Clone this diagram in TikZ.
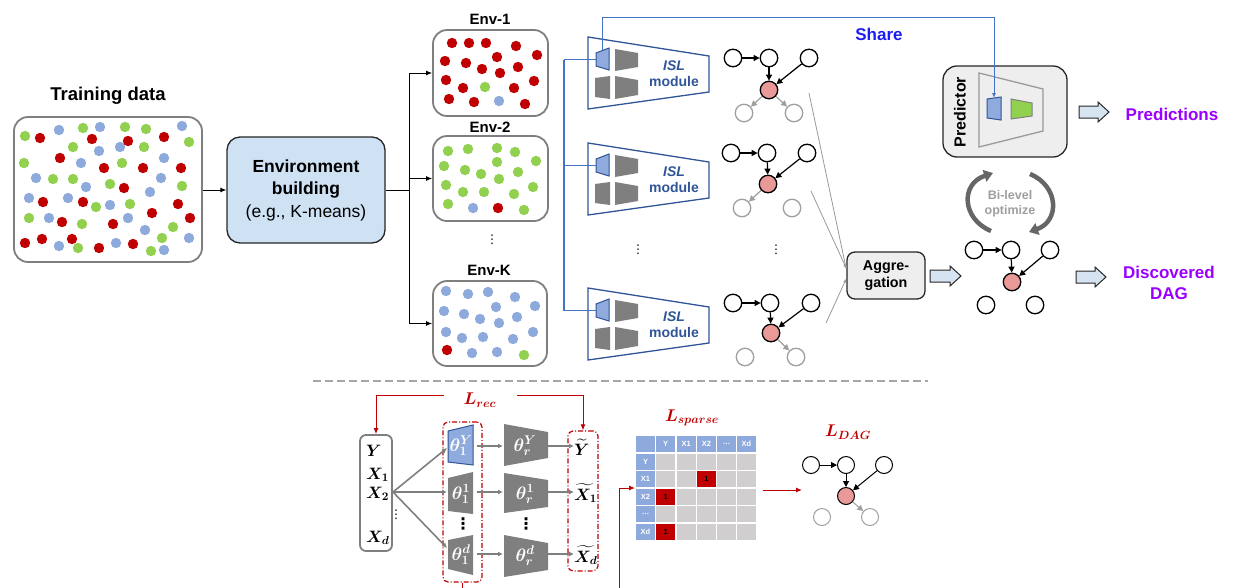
\RequirePackage{fix-cm}
\documentclass[tikz,border=0pt]{standalone}
\usepackage{amsmath}
\usepackage{bm}
\usepackage{fontspec}
\setmainfont{Liberation Sans}
\newfontfamily\djv{DejaVu Sans}
\usetikzlibrary{arrows.meta,calc}
\definecolor{dred}{HTML}{C00000}
\definecolor{dgreen}{HTML}{92D050}
\definecolor{dblue}{HTML}{8EA9DB}
\definecolor{bgray}{HTML}{7F7F7F}
\definecolor{islblue}{HTML}{2F5597}
\definecolor{encblue}{HTML}{8FAADC}
\definecolor{envfill}{HTML}{CFE2F3}
\definecolor{purp}{HTML}{9900FF}
\definecolor{sharetext}{HTML}{1C1CF5}
\definecolor{shareline}{HTML}{4472C4}
\definecolor{pinkred}{HTML}{EA9999}
\definecolor{lgray}{HTML}{EEEEEE}
\definecolor{cellgray}{HTML}{D0CECE}
\definecolor{arrfill}{HTML}{D6E4F2}
\definecolor{bilgray}{HTML}{666666}
\definecolor{biltext}{HTML}{9E9E9E}
\definecolor{dark}{HTML}{262626}
\newcommand{\blockarrow}[3]{%
  \draw[blockarr] ($(#1,#3)+(0,-6)$) -- ($(#2,#3)+(-11,-6)$) -- ($(#2,#3)+(-11,-10)$) -- (#2,#3) -- ($(#2,#3)+(-11,10)$) -- ($(#2,#3)+(-11,6)$) -- ($(#1,#3)+(0,6)$) -- cycle;}
\begin{document}
\begin{tikzpicture}[x=1pt,y=-1pt,
  font=\fontsize{14}{16}\selectfont,
  dn/.style={circle,draw=black,line width=1.3pt,minimum size=17.5pt,inner sep=0pt},
  dnred/.style={dn,fill=pinkred},
  dng/.style={circle,draw=gray!75,line width=1.3pt,minimum size=17.5pt,inner sep=0pt},
  dedge/.style={line width=1.2pt,-{Triangle[length=6pt,width=6pt]}},
  gedge/.style={line width=1.2pt,draw=gray!75,-{Triangle[length=6pt,width=6pt]}},
  databox/.style={draw=bgray,line width=1.8pt,rounded corners=14pt,inner sep=0pt},
  envttl/.style={font=\bfseries\fontsize{15}{17}\selectfont},
  blockarr/.style={draw=dark,line width=1pt,fill=arrfill},
  graybox/.style={draw=dark,line width=1.3pt,fill=lgray},
  blarr/.style={line width=0.9pt,-{Latex[length=6pt,width=5pt]}},
  shl/.style={draw=shareline,line width=1.2pt},
  encb/.style={fill=encblue,draw=islblue,line width=1pt},
  encg/.style={fill=bgray},
  garr/.style={draw=bgray,line width=1.6pt,-{Latex[length=5pt,width=5pt]}},
  glin/.style={draw=gray!80,line width=0.8pt,-{Latex[length=4pt,width=3pt]}},
  redarr/.style={draw=dred,line width=1pt,-{Latex[length=6pt,width=5pt]}},
  rdd/.style={draw=dred,line width=1.2pt,dash pattern=on 5pt off 2pt on 1pt off 2pt,rounded corners=5pt,inner sep=0pt},
  lossl/.style={text=dred,font=\fontsize{17}{19}\selectfont},
  thl/.style={text=white,inner sep=0pt,font=\fontsize{18}{20}\selectfont},
  mathv/.style={inner sep=0pt,font=\fontsize{16.5}{18}\selectfont},
  cell/.style={minimum width=19pt,minimum height=16pt,inner sep=0pt,font=\bfseries\fontsize{7.5}{8}\selectfont},
  hcell/.style={cell,fill=dblue,text=white},
  bcell/.style={cell,fill=cellgray},
  rcell/.style={cell,fill=dred,text=black},
  purpt/.style={text=purp,font=\bfseries\fontsize{17}{21}\selectfont,align=center},
  vd/.style={inner sep=0pt,font=\djv\fontsize{12}{13}\selectfont},
  vdb/.style={inner sep=0pt,font=\djv\bfseries\fontsize{16}{17}\selectfont}
]
\useasboundingbox (0,0) rectangle (1233,587);

% ---------- Training data ----------
\node[font=\bfseries\fontsize{18.5}{21}\selectfont] (traint) at (108,96) {Training data};
\node[databox,minimum width=188pt,minimum height=145pt] (train) at (108,189.5) {};
\foreach \x/\y in {25/136,83/128,125/127,146/129,189/142,73/147,144/147,24/163,122/163,53/179,73/179,110/184,182/186,96/207,130/204,29/218,82/224,173/227,162/238,78/248,151/251}
  \fill[dgreen] (\x,\y) circle (5.2pt);
\foreach \x/\y in {40/138,92/139,128/141,164/137,60/158,104/168,143/168,181/168,124/188,43/202,83/202,178/204,152/213,62/222,113/224,190/218,25/243,42/239,72/239,99/248,133/244}
  \fill[dred] (\x,\y) circle (5.2pt);
\foreach \x/\y in {59/130,100/127,182/126,99/151,120/147,81/163,164/158,36/178,86/187,161/178,150/192,29/198,68/198,110/205,49/218,128/218,145/230,189/238,59/246,116/243,164/250}
  \fill[dblue] (\x,\y) circle (5.2pt);

% ---------- Environment building ----------
\node[draw=dark,line width=1.3pt,fill=envfill,rounded corners=13pt,minimum width=158pt,minimum height=106pt,align=center,font=\fontsize{17.5}{22.5}\selectfont] (env) at (306,190) {\textbf{Environment}\\\textbf{building}\\(e.g., K-means)};
\draw[blarr] (train.east |- env.west) -- (env.west);

% ---------- Env boxes ----------
\node[databox,minimum width=115pt,minimum height=86pt] (env1) at (490.5,73) {};
\node[databox,minimum width=115pt,minimum height=85pt] (env2) at (490.5,178.5) {};
\node[databox,minimum width=114pt,minimum height=85pt] (envK) at (490,323.5) {};
\node[envttl] (env1t) at (490,19) {Env-1};
\node[envttl] (env2t) at (490,127) {Env-2};
\node[envttl] (envKt) at (489,270) {Env-K};
\node[vd] (envdots) at (492,240) {⋮};

\coordinate (fan0) at (409,190);
\coordinate (fan1) at (409,73);
\coordinate (fan2) at (409,178.5);
\coordinate (fanK) at (409,323.5);
\draw[line width=0.9pt] (env.east) -- (fan0);
\draw[line width=0.9pt] (fan1) -- (fanK);
\draw[blarr] (fan1) -- (env1.west);
\draw[blarr] (fan2) -- (env2.west);
\draw[blarr] (fanK) -- (envK.west);

\foreach \x/\y in {452/43,469/43,486/43,516/46,537/55,445/61,466/63,497/57,482/69,500/73,518/67,446/80,463/88,514/88,534/81,449/99,474/102,525/104}
  \fill[dred] (\x,\y) circle (5.2pt);
\fill[dgreen] (485,87) circle (5.2pt);
\fill[dblue] (499,101) circle (5.2pt);
\foreach \x/\y in {448/151,468/149,497/148,515/152,536/161,444/166,465/170,481/174,497/162,518/172,499/179,446/185,463/192,484/192,514/194,533/187,448/204,524/210}
  \fill[dgreen] (\x,\y) circle (5.2pt);
\fill[dblue] (473,208) circle (5.2pt);
\fill[dred] (498,208) circle (5.2pt);
\foreach \x/\y in {446/291,468/294,488/292,515/297,535/306,444/311,464/314,480/319,496/307,517/317,499/323,446/332,462/338,483/337,513/339,533/332,472/353,497/352}
  \fill[dblue] (\x,\y) circle (5.2pt);
\fill[dred] (447,350) circle (5.2pt);
\fill[dgreen] (524,355) circle (5.2pt);

% ---------- ISL modules ----------
\foreach \dy/\n in {0/1,106/2,251/3} {
  \begin{scope}[shift={(0,\dy)}]
    \draw[draw=islblue,line width=1.3pt] (588,37) -- (709,56) -- (709,92) -- (588,109) -- cycle;
    \draw[encb] (596,53) -- (609,48) -- (609,70) -- (596,66) -- cycle;
    \fill[encg] (615,49) -- (638,53) -- (638,67) -- (615,71) -- cycle;
    \fill[encg] (595,78) -- (610,76) -- (610,99) -- (595,97) -- cycle;
    \fill[encg] (615,76) -- (638,80) -- (638,95) -- (615,99) -- cycle;
    \node[align=center,text=islblue,font=\bfseries\fontsize{14}{16}\selectfont] (isl\n) at (674,74) {\textit{ISL}\\module};
    \coordinate (encin\n) at (596,59.5);
    \coordinate (bj\n) at (564,59.5);
  \end{scope}
  \draw[shl] (bj\n) -- (encin\n);
}
\draw[shl] (bj1) -- (bj3);
\node[vd] (isldots) at (638,250) {⋮};

% ---------- Predictor ----------
\node[graybox,rounded corners=14pt,minimum width=124pt,minimum height=91pt] (pred) at (1005,111.5) {};
\node[rotate=90,font=\bfseries\fontsize{16}{18}\selectfont] (predt) at (960,112) {Predictor};
\draw[draw=gray!80,line width=1.3pt] (979,73) -- (1043,89) -- (1043,131) -- (979,147) -- cycle;
\draw[encb] (987,99) -- (1001,97) -- (1001,120) -- (987,118) -- cycle;
\draw[fill=dgreen,draw=gray,line width=1pt] (1011,99) -- (1032,103) -- (1032,116) -- (1011,119) -- cycle;
\blockarrow{1079}{1109}{112}
\node[purpt] (predictions) at (1172,114) {Predictions};

% ---------- Share ----------
\coordinate (enctop1) at (602,49.5);
\coordinate (sharecorner) at (602,17);
\coordinate (predenctop) at (994,98);
\draw[draw=shareline,line width=1pt,-{Latex[length=5pt,width=4pt]}] (enctop1) -- (sharecorner) -| (predenctop);
\node[text=sharetext,font=\bfseries\fontsize{17}{19}\selectfont] (share) at (879,34) {Share};

% ---------- Small DAGs ----------
\begin{scope}[shift={(769,90)}]
  \node[dn] (a1) at (-36,-32) {};
  \node[dn] (b1) at (0,-32) {};
  \node[dn] (c1) at (40,-32) {};
  \node[dnred] (d1) at (0,0) {};
  \node[dng] (e1) at (-25,23) {};
  \node[dng] (f1) at (25,23) {};
\end{scope}
\draw[dedge] (a1) -- (b1);
\draw[dedge] (b1) -- (d1);
\draw[dedge] (c1) -- (d1);
\draw[gedge] (d1) -- (e1);
\draw[gedge] (d1) -- (f1);

\begin{scope}[shift={(768,184)}]
  \node[dn] (a2) at (-37,-31) {};
  \node[dn] (b2) at (-1,-31) {};
  \node[dn] (c2) at (39,-31) {};
  \node[dnred] (d2) at (0,0) {};
  \node[dng] (e2) at (-26,24) {};
  \node[dng] (f2) at (24,24) {};
\end{scope}
\draw[dedge] (a2) -- (b2);
\draw[dedge] (b2) -- (d2);
\draw[dedge] (c2) -- (d2);
\draw[gedge] (d2) -- (e2);

\begin{scope}[shift={(771,333)}]
  \node[dn] (a3) at (-38,-30) {};
  \node[dn] (b3) at (-1,-30) {};
  \node[dn] (c3) at (40,-30) {};
  \node[dnred] (d3) at (0,0) {};
  \node[dng] (e3) at (-26,24) {};
  \node[dng] (f3) at (25,24) {};
\end{scope}
\draw[dedge] (a3) -- (b3);
\draw[dedge] (b3) -- (d3);
\draw[dedge] (c3) -- (d3);
\draw[gedge] (d3) -- (f3);
\node[vd] (dagdots) at (776,250) {⋮};

% ---------- Aggregation ----------
\node[graybox,rounded corners=8pt,minimum width=78pt,minimum height=47pt,align=center,font=\bfseries\fontsize{14.3}{17}\selectfont] (agg) at (886,275.5) {Aggre-\\gation};
\coordinate (g1) at (809,93);
\coordinate (g2) at (811,191);
\coordinate (g3) at (826,323);
\draw[glin] (g1) -- ([yshift=6pt]agg.west);
\draw[glin] (g2) -- ([yshift=7pt]agg.west);
\draw[glin] (g3) -- ([yshift=-3pt]agg.west);
\blockarrow{930}{961}{276}

% ---------- Discovered DAG ----------
\begin{scope}[shift={(1012,282)}]
  \node[dn] (fa) at (-38,-32) {};
  \node[dn] (fb) at (-1,-32) {};
  \node[dn] (fc) at (38,-32) {};
  \node[dnred] (fd) at (0,0) {};
  \node[dn] (fe) at (-26,23) {};
  \node[dn] (ff) at (23,23) {};
\end{scope}
\draw[dedge] (fa) -- (fb);
\draw[dedge] (fb) -- (fd);
\draw[dedge] (fc) -- (fd);
\blockarrow{1076}{1106}{277}
\node[purpt] (discovered) at (1169,282.5) {Discovered\\DAG};

% ---------- Bi-level ----------
\draw[line width=4.5pt,draw=bilgray,-{Triangle[length=9pt,width=12pt]}] (991,231) .. controls (962,219) and (960,184) .. (993,173);
\draw[line width=4.5pt,draw=bilgray,-{Triangle[length=9pt,width=12pt]}] (1030,174) .. controls (1059,186) and (1060,221) .. (1029,232);
\node[text=biltext,align=center,font=\bfseries\fontsize{12.5}{15}\selectfont] (bilevel) at (1010,204) {Bi-level\\optimize};

% ---------- Separator ----------
\coordinate (sepL) at (313,381);
\coordinate (sepR) at (928,381);
\draw[draw=gray!70,line width=1.4pt,dash pattern=on 8pt off 4pt] (sepL) -- (sepR);

% ---------- Bottom: reconstruction ----------
\node[draw=bgray,line width=1.8pt,rounded corners=6pt,minimum width=32pt,minimum height=116pt,inner sep=0pt] (inbox) at (376,493) {};
\node[mathv,anchor=west] (vy) at (366,451) {$\bm{Y}$};
\node[mathv,anchor=west] (vx1) at (366,475) {$\bm{X_1}$};
\node[mathv,anchor=west] (vx2) at (366,494) {$\bm{X_2}$};
\node[mathv,anchor=west] (vxd) at (366,538) {$\bm{X_d}$};
\node[vd] (indots) at (396,515) {⋮};

\node[rdd,minimum width=39pt,minimum height=160pt] (rb1) at (462.5,502) {};
\node[rdd,minimum width=30pt,minimum height=140pt] (rb2) at (583,501) {};

% encoders
\draw[encb] (448,431) -- (473,425) -- (473,465) -- (448,462) -- cycle;
\fill[encg] (448,478) -- (473,472) -- (473,514) -- (448,511) -- cycle;
\fill[encg] (448,540) -- (473,535) -- (473,575) -- (448,569) -- cycle;
\node[thl] (t1y) at (461,446) {$\bm{\theta_1^Y}$};
\node[thl] (t11) at (461,494) {$\bm{\theta_1^1}$};
\node[thl] (t1d) at (461,555) {$\bm{\theta_1^d}$};
\node[vdb] (encdots) at (463,524) {⋮};
% decoders
\fill[encg] (504,424) -- (548,432) -- (548,458) -- (504,466) -- cycle;
\fill[encg] (504,473) -- (548,480) -- (548,507) -- (504,513) -- cycle;
\fill[encg] (504,535) -- (548,543) -- (548,570) -- (504,577) -- cycle;
\node[thl] (try) at (525,446) {$\bm{\theta_r^Y}$};
\node[thl] (tr1) at (525,494) {$\bm{\theta_r^1}$};
\node[thl] (trd) at (525,556) {$\bm{\theta_r^d}$};
\node[vdb] (decdots) at (526,524) {⋮};

% outputs
\node[mathv,anchor=west] (oy) at (574,447) {$\bm{\widetilde{Y}}$};
\node[mathv,anchor=west] (ox1) at (574,493) {$\bm{\widetilde{X_1}}$};
\node[mathv,anchor=west] (oxd) at (574,555) {$\bm{\widetilde{X_d}}$};

% connectors
\coordinate (fanb) at (393,492);
\coordinate (e1in) at (447,448);
\coordinate (e2in) at (447,492);
\coordinate (e3in) at (447,548);
\draw[garr] (fanb) -- (e1in);
\draw[garr] (fanb) -- (e2in);
\draw[garr] (fanb) -- (e3in);
\coordinate (m1a) at (477,446); \coordinate (m1b) at (503,446);
\coordinate (m2a) at (477,492); \coordinate (m2b) at (503,492);
\coordinate (m3a) at (477,554); \coordinate (m3b) at (503,554);
\draw[garr] (m1a) -- (m1b);
\draw[garr] (m2a) -- (m2b);
\draw[garr] (m3a) -- (m3b);
\coordinate (o1a) at (548,446);
\coordinate (o2a) at (548,492);
\coordinate (o3a) at (548,554);
\draw[garr] (o1a) -- (oy.west |- o1a);
\draw[garr] (o2a) -- (ox1.west |- o2a);
\draw[garr] (o3a) -- (oxd.west |- o3a);

% L_rec
\node[lossl] (lrec) at (480,400) {$\bm{L_{rec}}$};
\coordinate (lrecL) at (444,395);
\coordinate (lrecR) at (517,395);
\draw[redarr] (lrecL) -| (inbox.north);
\draw[redarr] (lrecR) -| (rb2.north);

% ---------- Matrix ----------
\node[lossl] (lsparse) at (692,418) {$\bm{L_{sparse}}$};
\node[hcell] (m-0-0) at (645.5,444) {};
\foreach \j/\cx/\lb in {1/665.7/Y,2/686.3/X1,3/706.5/X2,4/726.6/{\ldots},5/746.5/Xd}
  \node[hcell] (m-0-\j) at (\cx,444) {\lb};
\foreach \i/\ry/\lb in {1/462/Y,2/479.2/X1,3/496.5/X2,4/514/{\ldots},5/531.5/Xd} {
  \node[hcell] (m-\i-0) at (645.5,\ry) {\lb};
  \foreach \j/\cx in {1/665.7,2/686.3,3/706.5,4/726.6,5/746.5} {
    \pgfmathtruncatemacro{\isred}{((\i==2)&&(\j==3))||((\i==3)&&(\j==1))||((\i==5)&&(\j==1))}
    \ifnum\isred=1
      \node[rcell] (m-\i-\j) at (\cx,\ry) {1};
    \else
      \node[bcell] (m-\i-\j) at (\cx,\ry) {};
    \fi
  }
}

\coordinate (low1) at (462.5,600);
\coordinate (low2) at (619,600);
\coordinate (mcorner) at (619,488);
\coordinate (matin) at (635,488);
\draw[redarr] (rb1.south) -- (low1) -- (low2) -- (mcorner) -- (matin);

\coordinate (matout) at (763,490);
\coordinate (dagin) at (802,490);
\draw[redarr] (matout) -- (dagin);

% ---------- L_DAG ----------
\node[lossl] (ldag) at (848,432) {$\bm{L_{DAG}}$};
\begin{scope}[shift={(846,496)}]
  \node[dn,line width=1pt,minimum size=17pt] (ba) at (-35,-31) {};
  \node[dn,line width=1pt,minimum size=17pt] (bb) at (0,-31) {};
  \node[dn,line width=1pt,minimum size=17pt] (bc) at (38,-31) {};
  \node[dnred,line width=1pt,minimum size=17pt] (bd) at (0,0) {};
  \node[dng,line width=1pt,minimum size=17pt] (be) at (-24,21) {};
  \node[dng,line width=1pt,minimum size=17pt] (bf) at (24,21) {};
\end{scope}
\draw[dedge,line width=1pt] (ba) -- (bb);
\draw[dedge,line width=1pt] (bb) -- (bd);
\draw[dedge,line width=1pt] (bc) -- (bd);
\draw[gedge,line width=1pt] (bd) -- (bf);
\end{tikzpicture}
\end{document}
